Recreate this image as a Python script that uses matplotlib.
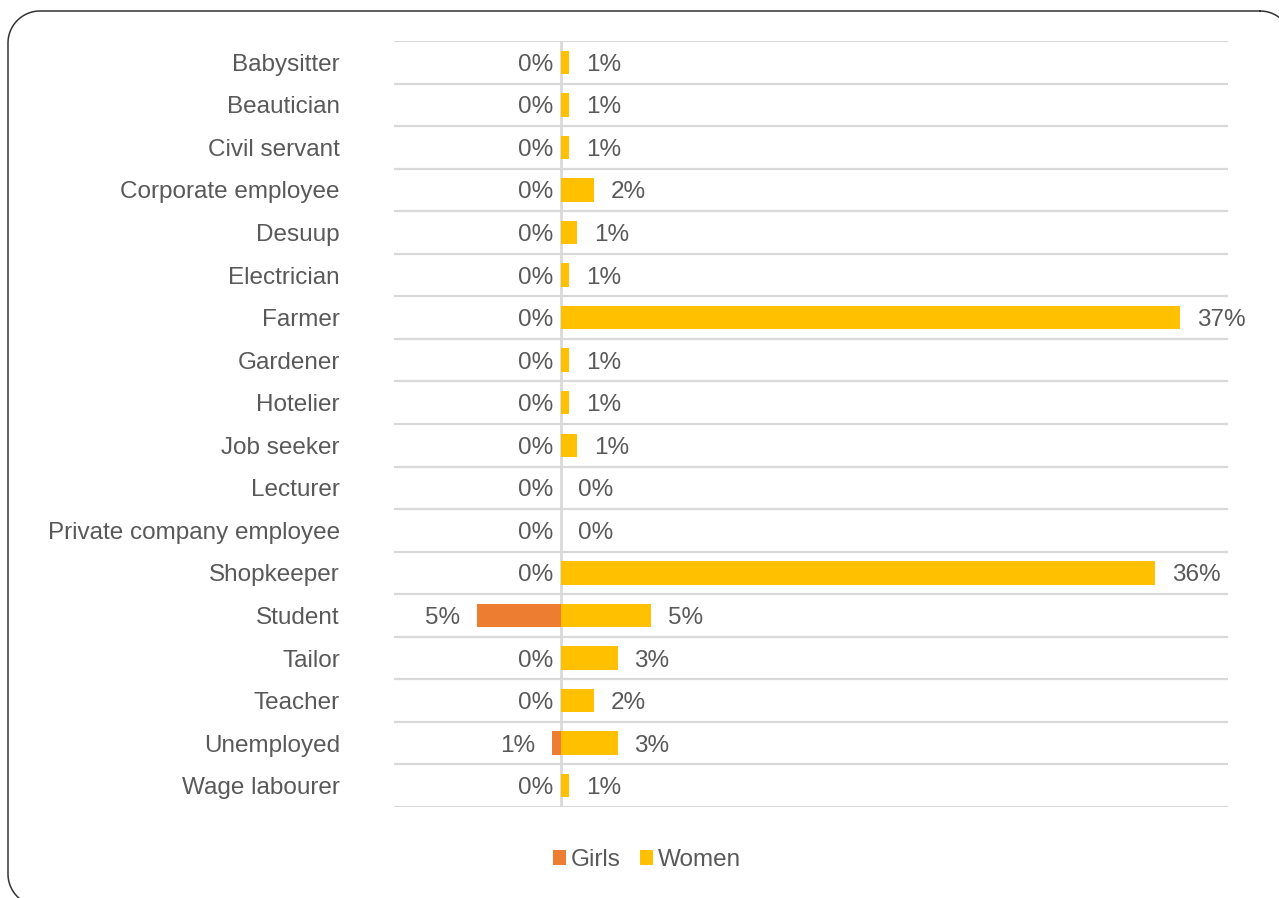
import math
import numpy as np
import matplotlib.pyplot as plt

plt.rcParams['font.family'] = ['Liberation Sans', 'DejaVu Sans']

occupations = ["Babysitter", "Beautician", "Civil servant", "Corporate employee",
               "Desuup", "Electrician", "Farmer", "Gardener", "Hotelier",
               "Job seeker", "Lecturer", "Private company employee", "Shopkeeper",
               "Student", "Tailor", "Teacher", "Unemployed", "Wage labourer"]
# percent of respondents, girls drawn to the left of zero
girls = [0, 0, 0, 0, 0, 0, 0, 0, 0, 0, 0, 0, 0, 5.0, 0, 0, 0.5, 0]
women = [0.5, 0.5, 0.5, 2.0, 1.0, 0.5, 37.1, 0.5, 0.5, 1.0, 0, 0, 35.6,
         5.4, 3.4, 2.0, 3.4, 0.5]

W, H = 1279, 898
fs = 17.5
fig = plt.figure(figsize=(W / 100, H / 100), dpi=100)

# background axes in pixel units, holds the rounded frame
bg = fig.add_axes([0, 0, 1, 1], zorder=0)
bg.set_xlim(0, W)
bg.set_ylim(H, 0)
bg.axis("off")


def rounded_rect(x0, y0, x1, y1, r):
    xs, ys_ = [], []
    corners = [(x1 - r, y0 + r, -90, 0), (x1 - r, y1 - r, 0, 90),
               (x0 + r, y1 - r, 90, 180), (x0 + r, y0 + r, 180, 270)]
    for cx, cy, a0, a1 in corners:
        t = np.radians(np.linspace(a0, a1, 30))
        xs.extend(cx + r * np.cos(t))
        ys_.extend(cy + r * np.sin(t))
    xs.append(xs[0])
    ys_.append(ys_[0])
    return xs, ys_


fx, fy = rounded_rect(8, 11, 1292, 906, 32)
bg.plot(fx, fy, color="#333333", lw=1.1, clip_on=False)

ax = fig.add_axes([394 / W, 1 - 807 / H, (1228 - 394) / W, (807 - 41) / H], zorder=1)
ax.patch.set_alpha(0)

txt = "#595959"
n = len(occupations)
ys = list(range(n))
ax.barh(ys, [-g for g in girls], height=0.55, color="#ED7D31", label="Girls", zorder=3)
ax.barh(ys, women, height=0.55, color="#FFC000", label="Women", zorder=3)

xmin, xmax = -10, 40
ax.set_xlim(xmin, xmax)
ax.set_ylim(n - 0.5, -0.5)
ax.hlines([i - 0.5 for i in range(n + 1)], xmin, xmax, color="#d9d9d9", lw=1.6, zorder=1)
ax.axvline(0, color="#d9d9d9", lw=2, zorder=2)

px = (xmax - xmin) / (1228 - 394)  # data units per pixel


def pct(v):
    return "%d%%" % math.floor(v + 0.5)


for y, g, w in zip(ys, girls, women):
    gpad = 8 if g == 0 else 17
    ax.text(-g - gpad * px, y, pct(g), ha="right", va="center_baseline", fontsize=fs, color=txt)
    ax.text(w + 17 * px, y, pct(w), ha="left", va="center_baseline", fontsize=fs, color=txt)

ax.set_yticks(ys)
ax.set_yticklabels(occupations, fontsize=fs, color=txt, va="center_baseline")
ax.tick_params(axis="y", length=0, pad=39)
ax.set_xticks([])
for s in ax.spines.values():
    s.set_visible(False)

fig.legend(loc="center", bbox_to_anchor=(647 / W, 1 - 860 / H), ncol=2, frameon=False,
           fontsize=fs, labelcolor=txt, handlelength=0.55, handleheight=0.55,
           handletextpad=0.2, columnspacing=0.8)

fig.savefig("out.png", dpi=100)
